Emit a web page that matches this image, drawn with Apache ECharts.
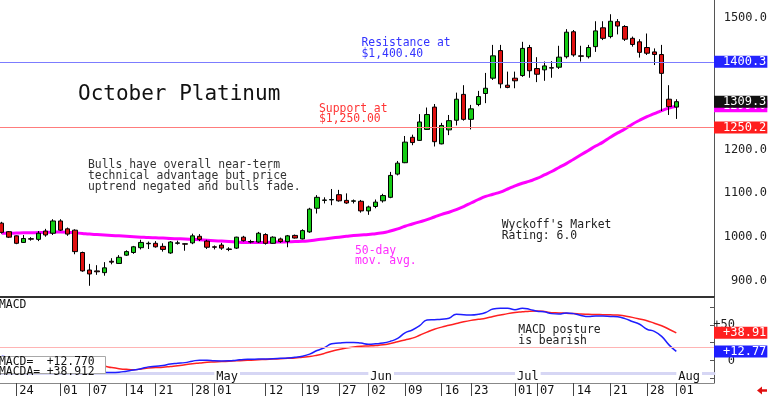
<!DOCTYPE html>
<html><head><meta charset="utf-8">
<script src="https://cdn.jsdelivr.net/npm/echarts@6/dist/echarts.min.js"></script>
<style>html,body{margin:0;padding:0;background:#fff}#c{width:768px;height:396px}</style>
</head><body><div id="c"></div>
<script>
// ---------- DATA ----------
const dates = ['03-20','03-21','03-24','03-25','03-26','03-27','03-28','03-31',
'04-01','04-02','04-03','04-04','04-07','04-08','04-09','04-10','04-11','04-14','04-15','04-16','04-17','04-21','04-22','04-23','04-24','04-25','04-28','04-29','04-30',
'05-01','05-02','05-05','05-06','05-07','05-08','05-09','05-12','05-13','05-14','05-15','05-16','05-19','05-20','05-21','05-22','05-23','05-27','05-28','05-29','05-30',
'06-02','06-03','06-04','06-05','06-06','06-09','06-10','06-11','06-12','06-13','06-16','06-17','06-18','06-20','06-23','06-24','06-25','06-26','06-27','06-30',
'07-01','07-02','07-03','07-07','07-08','07-09','07-10','07-11','07-14','07-15','07-16','07-17','07-18','07-21','07-22','07-23','07-24','07-25','07-28','07-29','07-30','07-31',
'08-01'];
const open = [1032,1012.5,1003,988,996.5,995,1014,1009,
 1037,1019,1016,965,925,923,919,945,940,959,965,976,985,986,979,964,986,985,987,1002,991,
 978,982,973,975,1000,989,989,1006,986,996,990,1004,996,1012,1066,1084,1085,1097,1084,1082,1082,
 1060,1070,1083,1091,1144,1170,1228,1221,1246,1297,1213,1245,1267,1326,1269,1303,1328,1363,1426,1347,
 1363,1369,1433,1385,1382,1387,1388,1412,1469,1414,1412,1435,1478,1458,1492,1481,1454,1446,1433,1423,1417,1315,
 1297];
const close = [1011,1000,986,997,995.5,1009,1005,1037,
 1016,1007,967,923,916,921,930,943,954,967,978,988,986,978,972,989,987,984,1003,995,977,
 977,975,972,1000,992,990,1009,986,1000,990,1003,998,1015,1064,1091,1085,1086,1083,1078,1083,1060,
 1069,1080,1095,1141,1169,1217,1216,1263,1280,1218,1255,1266,1315,1269,1293,1321,1340,1414,1350,1342,
 1357,1431,1380,1372,1391,1386,1411,1468,1416,1413,1433,1471,1454,1493,1482,1452,1440,1422,1420,1417,1374,1298,
 1309.3];
const high = [1035,1014,1004,1005,1000,1014,1019,1041,
 1041,1022,1018,967,939,936,943,952,959,970,980,994,990,991,986,991,992,986,1008,1007,994,
 981,987,977,1001,1003,994,1012,1009,1002,999,1005,1006,1018,1067,1096,1091,1110,1108,1100,1086,1085,
 1072,1086,1099,1149,1174,1231,1234,1281,1296,1304,1261,1279,1330,1347,1302,1334,1375,1439,1439,1378,
 1378,1446,1439,1411,1401,1402,1437,1475,1473,1437,1439,1493,1493,1509,1498,1484,1458,1452,1465,1431,1439,1347,
 1315];
const low = [1008,998,984,987,992,991,1001,1005,
 1014,1003,961,921,889,914,912,938,939,957,962,972,973,976,967,962,983,969,984,991,973,
 972,971,968,973,990,986,987,983,985,987,977,997,995,1010,1054,1077,1073,1081,1076,1077,1056,
 1051,1066,1079,1089,1141,1169,1210,1220,1245,1207,1212,1233,1255,1266,1246,1299,1306,1359,1340,1340,
 1340,1366,1364,1354,1357,1364,1384,1408,1412,1401,1408,1423,1450,1454,1463,1448,1435,1410,1416,1393,1288,1279,
 1270];
const ma50 = [1009,1009,1009.5,1010,1010,1010.5,1011,1011.5,1012,1011.5,1010,1008.5,1007,1006,1005,1004,1003,
 1002,1001,1000,999,998.5,998,997,996.5,996,995,994,993,992,991,990,989,988,
 988,988,988,988.5,989,989.5,990,990.5,992,994,996,998,1000,1002,1004,1005,1006,1008,1010,
 1014,1019,1025,1030,1035,1040,1046,1052,1057,1063,1070,1078,1086,
 1093,1098,1103,1110,1117,1123,1128,1134,1142,1150,1159,1168,1178,1188,1198,1208,1217,1228,1238,
 1247,1258,1267,1275,1282,1289,1295,1299];
const macd = [6,4.5,2,0,-2,-3,-4,-3,-3,-4,-7,-11,-15,-16.5,-17,-17,-16.5,-15,-13.5,-11.5,-9,-8,-7,-5,-4,-3,-1,0.5,0.5,
 -0.5,-0.7,-0.5,0.5,1.5,1.7,2,2.2,2.5,3,3.5,4.5,6,9,14,18,23.5,24.5,25.5,25.5,24.5,
 23,23.5,24.5,27,31,39,43,49,57,57.5,58,59.5,65,64.5,64,65,67.5,72.5,73.5,73.5,
 71.5,73.5,72,69.5,68.5,66,65.5,67,66,63.5,62,62.5,62.5,62,61.5,59,55,51,44,41,34,22,
 12.77];
const signal = [5,5,4.5,4,3,2,1.5,1,0.5,0,-1,-3,-5,-7,-8,-10,-11.5,-12.5,-13,-12,-10.5,-10,-9.5,-8.5,-7.5,-6,-4.5,-3.5,-2.5,
 -2,-1.5,-1,-0.5,0,0.5,1,1.5,2,2.5,3,3.5,4.5,5.5,7.5,10,13,15.5,17.5,19,20,
 20.5,21,22,24,26.5,29,31.5,35.5,40,44,47,49.5,52,54.5,56.5,58,59.5,62,64,66,
 67.5,68.5,69.5,69.7,69,67.3,67,66.5,66,65.3,65,64.7,64.5,64.3,64,62.5,60.7,58.5,56,52.5,49,44,
 38.912];
const tickDates = ['03-24','04-01','04-07','04-14','04-21','04-28','05-01','05-12','05-19','05-27','06-02','06-09','06-16','06-23','07-01','07-07','07-14','07-21','07-28','08-01'];
const monthStarts = ['05-01','06-02','07-01','08-01'];
const monthNames = ['May','Jun','Jul','Aug'];
const priceTicks = [900,1000,1100,1200,1300,1400,1500];
const macdTicks = [0,50];
const resistance = 1400.3;
const support = 1250.2;
const macdRef = 19;

// ---------- CHART ----------
const FONT = '"DejaVu Sans Mono", monospace';
const X_MIN = -0.232, X_MAX = 97.14;
const last = dates.length - 1;
const candleData = dates.map((d, i) => [i, open[i], close[i], low[i], high[i]]);
const maData = ma50.map((v, i) => [i, v]);
const macdData = macd.map((v, i) => [i, v]);
const sigData = signal.map((v, i) => [i, v]);
const tickIdx = tickDates.map(d => dates.indexOf(d));
const monthIdx = monthStarts.map(d => dates.indexOf(d));

const tagLabel = {
  show: true, position: 'end', distance: 0, color: '#fff', opacity: 1,
  fontFamily: FONT, fontSize: 12, lineHeight: 12, padding: [0, 1, 0, 9]
};
const hiddenLine = { color: 'rgba(255,255,255,0)', width: 1, type: 'solid' };

const chart = echarts.init(document.getElementById('c'), null, { renderer: 'canvas' });
chart.setOption({
  animation: false,
  backgroundColor: '#fff',
  grid: [
    { left: 0, right: 54, top: 0, height: 297, containLabel: false, outerBoundsMode: 'none' },
    { left: 0, right: 54, top: 298, height: 85, containLabel: false, outerBoundsMode: 'none' }
  ],
  xAxis: [
    { type: 'value', gridIndex: 0, min: X_MIN, max: X_MAX,
      axisLine: { show: true, onZero: false, lineStyle: { color: '#333', width: 2 } },
      axisTick: { show: false }, axisLabel: { show: false }, splitLine: { show: false } },
    { type: 'value', gridIndex: 1, min: X_MIN, max: X_MAX, position: 'bottom',
      axisLine: { show: true, onZero: false, lineStyle: { color: '#888', width: 1 } },
      axisTick: { show: true, customValues: tickIdx, length: 13, lineStyle: { color: '#444' } },
      axisLabel: { show: true, customValues: tickIdx, formatter: v => dates[Math.round(v)].slice(3),
        align: 'left', padding: [0, 0, 0, 3], margin: 2, fontFamily: FONT, fontSize: 12, color: '#111' },
      splitLine: { show: false } },
    { type: 'value', gridIndex: 1, min: X_MIN, max: X_MAX, position: 'bottom', offset: -10,
      axisLine: { show: true, onZero: false, lineStyle: { color: '#d6d6f4', width: 3 } },
      axisTick: { show: false },
      axisLabel: { show: true, customValues: monthIdx, formatter: v => monthNames[monthIdx.indexOf(Math.round(v))],
        align: 'left', padding: [0, 2, 0, 2], margin: -2, backgroundColor: '#fff', lineHeight: 11,
        fontFamily: FONT, fontSize: 12, color: '#111' },
      splitLine: { show: false } }
  ],
  yAxis: [
    { type: 'value', gridIndex: 0, position: 'right', min: 863.4, max: 1541.5, scale: true,
      axisLine: { show: true, onZero: false, lineStyle: { color: '#555', width: 1 } },
      axisTick: { show: false },
      axisLabel: { show: true, customValues: priceTicks, formatter: v => v.toFixed(1), align: 'right', margin: 53,
        fontFamily: FONT, fontSize: 12, color: '#222' },
      splitLine: { show: false } },
    { type: 'value', gridIndex: 1, position: 'right', min: -31.7, max: 88,
      axisLine: { show: true, onZero: false, lineStyle: { color: '#555', width: 1 } },
      axisTick: { show: true, inside: true, length: 4, customValues: [-25, 0, 25, 50, 75], lineStyle: { color: '#555' } },
      axisLabel: { show: true, customValues: macdTicks, formatter: v => (v > 0 ? '+' + v : '' + v), align: 'right', margin: 21,
        fontFamily: FONT, fontSize: 12, color: '#222' },
      splitLine: { show: false } }
  ],
  series: [
    { type: 'line', name: 'MA50', xAxisIndex: 0, yAxisIndex: 0, data: maData, smooth: true, symbol: 'none', z: 3,
      lineStyle: { color: '#ff00ff', width: 3 },
      markLine: { silent: true, symbol: ['none', 'none'], z: 4, lineStyle: hiddenLine,
        label: Object.assign({}, tagLabel, { backgroundColor: '#ff00ff', formatter: p => p.value.toFixed(1) }),
        data: [{ yAxis: ma50[last] }] } },
    { type: 'candlestick', name: 'Price', xAxisIndex: 0, yAxisIndex: 0, data: candleData, barWidth: 5, z: 4,
      itemStyle: { color: '#14cc14', color0: '#e01010', borderColor: '#000', borderColor0: '#000', borderWidth: 1 },
      markLine: { silent: true, symbol: ['none', 'none'], z: 6,
        label: Object.assign({}, tagLabel, { formatter: p => p.value.toFixed(1) }),
        data: [
          { yAxis: resistance, lineStyle: { color: '#7c7cff', width: 1, type: 'solid' }, label: { backgroundColor: '#2424ff' } },
          { yAxis: support, lineStyle: { color: '#ff7c7c', width: 1, type: 'solid' }, label: { backgroundColor: '#ff1e1e' } },
          { yAxis: close[last], lineStyle: hiddenLine, label: { backgroundColor: '#111' } }
        ] } },
    { type: 'line', name: 'MACDA', xAxisIndex: 1, yAxisIndex: 1, data: sigData, smooth: true, symbol: 'none',
      lineStyle: { color: '#ff2020', width: 1.5 },
      markLine: { silent: true, symbol: ['none', 'none'],
        data: [
          { yAxis: macdRef, lineStyle: { color: '#ffb4b4', width: 1, type: 'solid' }, label: { show: false } },
          { yAxis: signal[last], lineStyle: hiddenLine,
            label: Object.assign({}, tagLabel, { backgroundColor: '#ff2020', formatter: p => '+' + p.value.toFixed(2) }) }
        ] } },
    { type: 'line', name: 'MACD', xAxisIndex: 1, yAxisIndex: 1, data: macdData, smooth: true, symbol: 'none',
      lineStyle: { color: '#1e1eff', width: 1.5 },
      markLine: { silent: true, symbol: ['none', 'none'], lineStyle: hiddenLine,
        label: Object.assign({}, tagLabel, { backgroundColor: '#1e1eff', formatter: p => '+' + p.value.toFixed(2) }),
        data: [{ yAxis: macd[last] }] } }
  ],
  graphic: [
    { type: 'text', x: 78, y: 95, z: 50, style: { text: 'October Platinum', font: '21px ' + FONT, fill: '#111', align: 'left', verticalAlign: 'middle' } },
    { type: 'text', x: 361.5, y: 48.3, z: 50, style: { text: 'Resistance at\n$1,400.40', font: '11.4px ' + FONT, lineHeight: 10.5, fill: '#3434ff', align: 'left', verticalAlign: 'middle' } },
    { type: 'text', x: 319, y: 113.8, z: 50, style: { text: 'Support at\n$1,250.00', font: '11.4px ' + FONT, lineHeight: 10.5, fill: '#ff3434', align: 'left', verticalAlign: 'middle' } },
    { type: 'text', x: 88, y: 175.8, z: 50, style: { text: 'Bulls have overall near-term\ntechnical advantage but price\nuptrend negated and bulls fade.', font: '11.4px ' + FONT, lineHeight: 10.75, fill: '#333', align: 'left', verticalAlign: 'middle' } },
    { type: 'text', x: 355, y: 255.8, z: 50, style: { text: '50-day\nmov. avg.', font: '11.4px ' + FONT, lineHeight: 10.5, fill: '#ff2cff', align: 'left', verticalAlign: 'middle' } },
    { type: 'text', x: 501.7, y: 230.3, z: 50, style: { text: "Wyckoff's Market\nRating: 6.0", font: '11.4px ' + FONT, lineHeight: 10.5, fill: '#222', align: 'left', verticalAlign: 'middle' } },
    { type: 'text', x: 518.3, y: 335.5, z: 50, style: { text: 'MACD posture\nis bearish', font: '11.4px ' + FONT, lineHeight: 11, fill: '#222', align: 'left', verticalAlign: 'middle' } },
    { type: 'text', x: -1, y: 305.5, z: 50, style: { text: 'MACD', font: '11.4px ' + FONT, fill: '#111', align: 'left', verticalAlign: 'middle' } },
    { type: 'rect', z: 60, shape: { x: -1.5, y: 356.5, width: 107, height: 17 }, style: { fill: '#fff', stroke: '#a8a8a8', lineWidth: 1 } },
    { type: 'text', x: -1, y: 362.3, z: 61, style: { text: 'MACD=', font: '11.4px ' + FONT, fill: '#111', align: 'left', verticalAlign: 'middle' } },
    { type: 'text', x: 46.7, y: 362.3, z: 61, style: { text: (macd[last] >= 0 ? '+' : '') + macd[last].toFixed(3), font: '11.4px ' + FONT, fill: '#111', align: 'left', verticalAlign: 'middle' } },
    { type: 'text', x: -1, y: 371.7, z: 61, style: { text: 'MACDA=', font: '11.4px ' + FONT, fill: '#111', align: 'left', verticalAlign: 'middle' } },
    { type: 'text', x: 46.7, y: 371.7, z: 61, style: { text: (signal[last] >= 0 ? '+' : '') + signal[last].toFixed(3), font: '11.4px ' + FONT, fill: '#111', align: 'left', verticalAlign: 'middle' } },
    { type: 'polygon', z: 61, shape: { points: [[757, 390.5], [762, 386.5], [762, 389.3], [767, 389.3], [767, 391.7], [762, 391.7], [762, 394.5]] }, style: { fill: '#e01010' } }
  ]
});
</script>
</body></html>
